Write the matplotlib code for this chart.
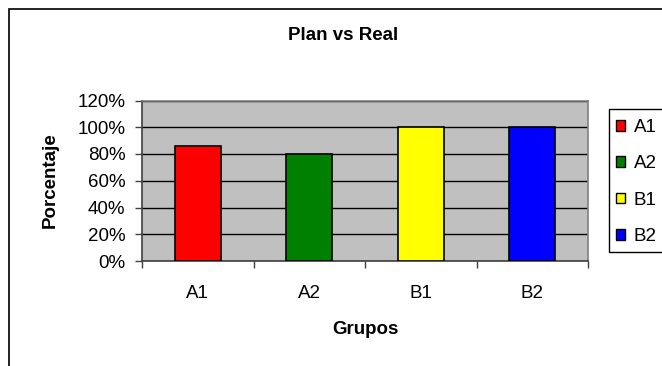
import matplotlib.pyplot as plt
from matplotlib.patches import Rectangle
from matplotlib.ticker import PercentFormatter

plt.rcParams['font.family'] = ['Liberation Sans', 'DejaVu Sans']

grupos = ['A1', 'A2', 'B1', 'B2']
porcentaje = [86, 80, 100, 100]
colores = ['#FF0000', '#008000', '#FFFF00', '#0000FF']

fig = plt.figure(figsize=(6.62, 3.66), dpi=100)
ax = fig.add_axes([142 / 662, 1 - 261 / 366, 446 / 662, 160.5 / 366])

# chart area border (cut off on right and bottom, as in the original)
fig.add_artist(Rectangle((9 / 662, -0.5), 2, 1.5 - 9 / 366, transform=fig.transFigure,
                         fill=False, edgecolor='black', linewidth=1.2))
# legend box, also running past the right edge
fig.add_artist(Rectangle((609 / 662, 1 - 252 / 366), 0.2, 143 / 366, transform=fig.transFigure,
                         fill=False, edgecolor='black', linewidth=1))

ax.set_facecolor('#C0C0C0')
x = range(len(grupos))
bars = ax.bar(x, porcentaje, width=0.41, color=colores, edgecolor='black', linewidth=1.2, zorder=3)

ax.set_xlim(-0.5, len(grupos) - 0.5)
ax.set_ylim(0, 120)
ax.set_yticks(range(0, 121, 20))
ax.yaxis.set_major_formatter(PercentFormatter(decimals=0))
ax.grid(axis='y', color='black', linewidth=1, zorder=1)

ax.set_xticks(list(x), grupos)
ax.set_xticks([i - 0.5 for i in range(len(grupos) + 1)], minor=True)
ax.tick_params(axis='x', which='major', length=0, pad=17, labelsize=13.5)
ax.tick_params(axis='x', which='minor', length=5, width=1, color='#404040')
ax.tick_params(axis='y', length=5, width=1, pad=7, labelsize=13.5, color='#404040')

for s in ['left', 'bottom']:
    ax.spines[s].set_color('#404040')
    ax.spines[s].set_linewidth(1.2)
for s in ['top', 'right']:
    ax.spines[s].set_color('#808080')
    ax.spines[s].set_linewidth(1.2)

fig.text(343 / 662, 1 - 35 / 366, 'Plan vs Real', ha='center', va='center', fontsize=13.5, fontweight='bold')
fig.text(50 / 662, 1 - 180 / 366, 'Porcentaje', ha='center', va='center', rotation=90,
         fontsize=13.5, fontweight='bold')
fig.text(365 / 662, 1 - 330 / 366, 'Grupos', ha='center', va='center', fontsize=13.5, fontweight='bold')

handles = [Rectangle((0, 0), 1, 1, facecolor=c, edgecolor='black', linewidth=1) for c in colores]
leg = fig.legend(handles, grupos, loc='upper left', bbox_to_anchor=(616 / 662, 1 - 119 / 366),
                 fontsize=13.5, frameon=False, handlelength=0.5, handleheight=0.5,
                 handletextpad=0.45, labelspacing=1.03, borderpad=0, borderaxespad=0)

fig.savefig('out.png', dpi=100)
